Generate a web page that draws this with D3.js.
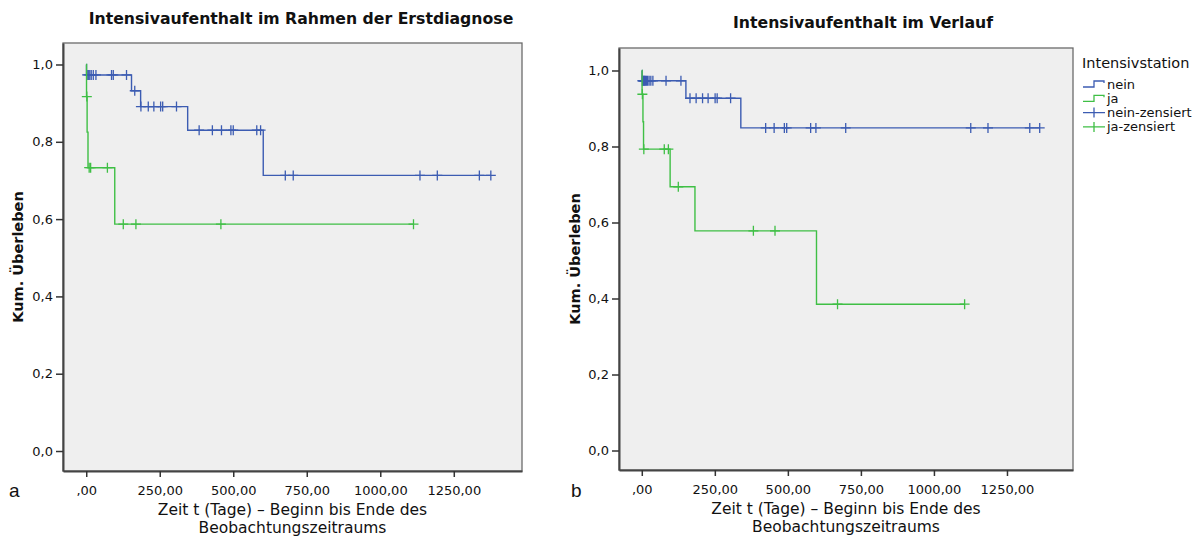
<!DOCTYPE html>
<html>
<head>
<meta charset="utf-8">
<script src="https://cdn.jsdelivr.net/npm/d3@7"></script>
<style>
  body { margin: 0; background: #fff; }
  text { font-family: "DejaVu Sans", sans-serif; fill: #111; }
</style>
</head>
<body>
<svg id="chart" width="1194" height="539"></svg>
<script>
// panel a: Intensivaufenthalt im Rahmen der Erstdiagnose
var aNeinTime = [0, 1, 154, 185, 345, 602];
var aNeinSurv = [1.0, 0.973, 0.932, 0.891, 0.830, 0.713];
var aNeinCens = [3, 7, 12, 17, 24, 33, 86, 92, 137, 165, 186, 211, 230, 253, 260, 307,
                 384, 429, 460, 492, 500, 580, 593, 677, 704, 1135, 1194, 1337, 1376];
var aJaTime = [0, 1, 3, 6, 97];
var aJaSurv = [1.0, 0.917, 0.825, 0.733, 0.587];
var aJaCens = [2, 10, 15, 72, 126, 169, 458, 1113];

// panel b: Intensivaufenthalt im Verlauf
var bNeinTime = [0, 1, 151, 339];
var bNeinSurv = [1.0, 0.973, 0.927, 0.849];
var bNeinCens = [2, 4, 6, 8, 10, 13, 16, 20, 25, 31, 38, 83, 134, 165, 186, 208, 227, 251, 258, 304,
                 424, 453, 488, 496, 578, 596, 698, 1126, 1185, 1328, 1362];
var bJaTime = [0, 1, 4, 6, 97, 182, 598];
var bJaSurv = [1.0, 0.9375, 0.865, 0.793, 0.694, 0.578, 0.385];
var bJaCens = [2, 7, 77, 91, 125, 382, 456, 670, 1105];

var xTicks = [0, 250, 500, 750, 1000, 1250];
var yTicks = [0, 0.2, 0.4, 0.6, 0.8, 1.0];
var legendLabels = ["nein", "ja", "nein-zensiert", "ja-zensiert"];

var blue = "#3c5cb2", green = "#3fbf45";
var svg = d3.select("#chart");

function fmtX(v) { return v === 0 ? ",00" : d3.format(".2f")(v).replace(".", ","); }
function fmtY(v) { return d3.format(".1f")(v).replace(".", ","); }

function drawPanel(p) {
    var x = d3.scaleLinear().domain(p.xDomain).range([p.x0, p.x1]);
    var y = d3.scaleLinear().domain(p.yDomain).range([p.y1, p.y0]);
    var g = svg.append("g");

    g.append("rect")
        .attr("x", p.x0).attr("y", p.y0)
        .attr("width", p.x1 - p.x0).attr("height", p.y1 - p.y0)
        .attr("fill", "#efefef")
        .attr("stroke", "#6a6a6a")
        .attr("stroke-width", 1.3);

    var yAxis = g.append("g")
        .attr("transform", "translate(" + p.x0 + ",0)")
        .call(d3.axisLeft(y).tickValues(yTicks).tickFormat(fmtY).tickSize(7).tickSizeOuter(0).tickPadding(3));
    var xAxis = g.append("g")
        .attr("transform", "translate(0," + p.y1 + ")")
        .call(d3.axisBottom(x).tickValues(xTicks).tickFormat(fmtX).tickSize(6).tickSizeOuter(0).tickPadding(9));
    [yAxis, xAxis].forEach(function(ax) {
        ax.select(".domain").attr("stroke", "#444").attr("stroke-width", 2);
        ax.selectAll(".tick line").attr("stroke", "#333").attr("stroke-width", 1.5);
        ax.selectAll(".tick text").style("font-size", "13px").attr("fill", "#222");
    });

    // survival curves
    var line = d3.line()
        .x(function(d) { return x(d[0]); })
        .y(function(d) { return y(d[1]); })
        .curve(d3.curveStepAfter);

    p.series.forEach(function(s) {
        var pts = s.time.map(function(t, i) { return [t, s.surv[i]]; });
        var tEnd = d3.max(s.cens);
        pts.push([tEnd, s.surv[s.surv.length - 1]]);
        g.append("path")
            .attr("d", line(pts))
            .attr("fill", "none")
            .attr("stroke", s.color)
            .attr("stroke-width", 1.4);

        var bis = d3.bisector(function(d) { return d; }).right;
        g.append("g").selectAll("path")
            .data(s.cens)
            .enter().append("path")
            .attr("d", function(t) {
                var sv = s.surv[bis(s.time, t) - 1];
                var px = x(t), py = y(sv);
                return "M" + px + "," + (py - 5) + "V" + (py + 5) +
                       "M" + (px - 5) + "," + py + "H" + (px + 5);
            })
            .attr("stroke", s.color)
            .attr("stroke-width", 1.3);
    });

    // titles
    svg.append("text")
        .attr("x", p.titleX).attr("y", p.titleY)
        .attr("text-anchor", "middle")
        .style("font-size", "15.7px").style("font-weight", "bold")
        .text(p.title);

    svg.append("text")
        .attr("transform", "translate(" + p.yLabelX + "," + ((p.y0 + p.y1) / 2) + ") rotate(-90)")
        .attr("text-anchor", "middle")
        .style("font-size", "14.5px").style("font-weight", "bold")
        .text("Kum. Überleben");

    var cx = (p.x0 + p.x1) / 2;
    svg.append("text")
        .attr("x", cx).attr("y", p.y1 + 44)
        .attr("text-anchor", "middle")
        .style("font-size", "15.5px")
        .text("Zeit t (Tage) – Beginn bis Ende des");
    svg.append("text")
        .attr("x", cx).attr("y", p.y1 + 62)
        .attr("text-anchor", "middle")
        .style("font-size", "15.5px")
        .text("Beobachtungszeitraums");

    svg.append("text")
        .attr("x", p.letterX).attr("y", 497)
        .style("font-family", "'Liberation Sans', Arial, sans-serif")
        .style("font-size", "19px")
        .text(p.letter);
}

drawPanel({
    x0: 63, x1: 522, y0: 43, y1: 471,
    xDomain: [-79, 1482], yDomain: [-0.0517, 1.0556],
    title: "Intensivaufenthalt im Rahmen der Erstdiagnose", titleX: 301, titleY: 24,
    yLabelX: 23, letter: "a", letterX: 9,
    series: [
        { time: aNeinTime, surv: aNeinSurv, cens: aNeinCens, color: blue },
        { time: aJaTime, surv: aJaSurv, cens: aJaCens, color: green }
    ]
});

drawPanel({
    x0: 619, x1: 1073, y0: 48, y1: 470,
    xDomain: [-78, 1476], yDomain: [-0.0513, 1.0592],
    title: "Intensivaufenthalt im Verlauf", titleX: 863, titleY: 28,
    yLabelX: 580, letter: "b", letterX: 571,
    series: [
        { time: bNeinTime, surv: bNeinSurv, cens: bNeinCens, color: blue },
        { time: bJaTime, surv: bJaSurv, cens: bJaCens, color: green }
    ]
});

// legend (panel b)
var lg = svg.append("g").attr("transform", "translate(1082,0)");
lg.append("text").attr("x", 0).attr("y", 68)
    .style("font-size", "14.5px").text("Intensivstation");
var colors = [blue, green, blue, green];
var rows = lg.selectAll("g.item").data(legendLabels).enter().append("g")
    .attr("class", "item")
    .attr("transform", function(d, i) { return "translate(0," + (84 + i * 14.3) + ")"; });
rows.append("path")
    .attr("d", function(d, i) {
        return i < 2 ? "M1,3H12V-3H22V-1" : "M1,0H23M12,-5V5";
    })
    .attr("fill", "none")
    .attr("stroke", function(d, i) { return colors[i]; })
    .attr("stroke-width", 1.3);
rows.append("text").attr("x", 25).attr("y", 4.5)
    .style("font-size", "13px").text(function(d) { return d; });
</script>
</body>
</html>
